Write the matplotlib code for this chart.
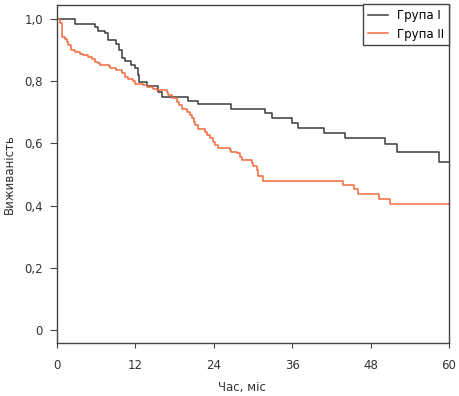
import matplotlib
matplotlib.use('Agg')
import matplotlib.pyplot as plt

plt.rcParams['font.family'] = ['Liberation Sans Narrow', 'DejaVu Sans']
plt.rcParams['font.size'] = 8.5

# Група I (Kaplan-Meier steps)
t1 = [0, 2.8, 5.8, 6.3, 7.3, 7.8, 9.1, 9.5, 9.9, 10.4, 11.4, 11.9, 12.35, 12.55,
      13.7, 15.5, 16.1, 20.1, 21.6, 26.6, 31.9, 32.9, 36.0, 36.9, 40.8, 44.1,
      50.2, 52.0, 58.5, 60]
s1 = [1.0, 0.984, 0.975, 0.962, 0.954, 0.932, 0.920, 0.900, 0.875, 0.866, 0.852,
      0.842, 0.820, 0.797, 0.785, 0.766, 0.750, 0.737, 0.727, 0.711, 0.697, 0.681,
      0.667, 0.648, 0.634, 0.616, 0.597, 0.573, 0.541, 0.541]

# Група II
t2 = [0, 0.46, 0.7, 0.8, 1.2, 1.5, 1.7, 2.2, 2.75, 3.5, 4.0, 4.8, 5.3, 5.8, 6.3,
      6.6, 7.9, 8.1, 9.1, 9.9, 10.4, 10.9, 11.7, 11.9, 13.2, 13.7, 14.7, 15.3,
      16.8, 17.0, 17.6, 18.3, 18.6, 19.1, 19.9, 20.4, 20.6, 20.9, 21.1, 21.6,
      22.7, 22.9, 23.4, 23.9, 24.2, 24.7, 26.5, 26.7, 27.5, 28.0, 28.3, 29.8,
      30.0, 30.6, 30.8, 31.6, 43.7, 45.4, 46.1, 49.3, 50.9, 60]
s2 = [1.0, 0.986, 0.965, 0.941, 0.935, 0.927, 0.916, 0.900, 0.895, 0.889, 0.884,
      0.877, 0.870, 0.863, 0.857, 0.852, 0.849, 0.841, 0.836, 0.825, 0.815, 0.806,
      0.799, 0.791, 0.788, 0.780, 0.774, 0.772, 0.766, 0.756, 0.745, 0.734, 0.723,
      0.709, 0.702, 0.691, 0.681, 0.670, 0.659, 0.645, 0.638, 0.627, 0.616, 0.606,
      0.595, 0.584, 0.579, 0.573, 0.568, 0.557, 0.547, 0.538, 0.527, 0.515, 0.495,
      0.480, 0.466, 0.452, 0.437, 0.421, 0.404, 0.404]

xticks = [0, 12, 24, 36, 48, 60]
yticks = [0, 0.2, 0.4, 0.6, 0.8, 1.0]
ytick_labels = ['0', '0,2', '0,4', '0,6', '0,8', '1,0']

fig = plt.figure(figsize=(4.59, 3.96), dpi=100)
ax = fig.add_axes([57/459, 53/396, 392/459, 338/396])

ax.step(t1, s1, where='post', color='#3a3a3a', lw=1.1, label='Група I')
ax.step(t2, s2, where='post', color='#f26a3d', lw=1.1, label='Група II')

ax.set_xlim(0, 60)
ax.set_ylim(-0.042, 1.045)
ax.set_xticks(xticks)
ax.set_yticks(yticks)
ax.set_yticklabels(ytick_labels)
ax.tick_params(axis='x', length=3.6, pad=8, color='#444444', labelcolor='#333333')
ax.tick_params(axis='y', length=5, pad=5, color='#444444', labelcolor='#333333')
for sp in ax.spines.values():
    sp.set_color('#444444')
    sp.set_linewidth(1.0)

ax.set_xlabel('Час, міс', color='#333333')
ax.xaxis.set_label_coords(0.472, -0.112)
ax.set_ylabel('Виживаність', color='#333333')
ax.yaxis.set_label_coords(-0.104, 0.5)

leg = ax.legend(loc='upper right', bbox_to_anchor=(1.0, 1.003), borderaxespad=0,
                fancybox=False, handlelength=1.7, framealpha=1)
leg.get_frame().set_edgecolor('#444444')
leg.get_frame().set_linewidth(1.0)

fig.savefig('out.png', dpi=100)
